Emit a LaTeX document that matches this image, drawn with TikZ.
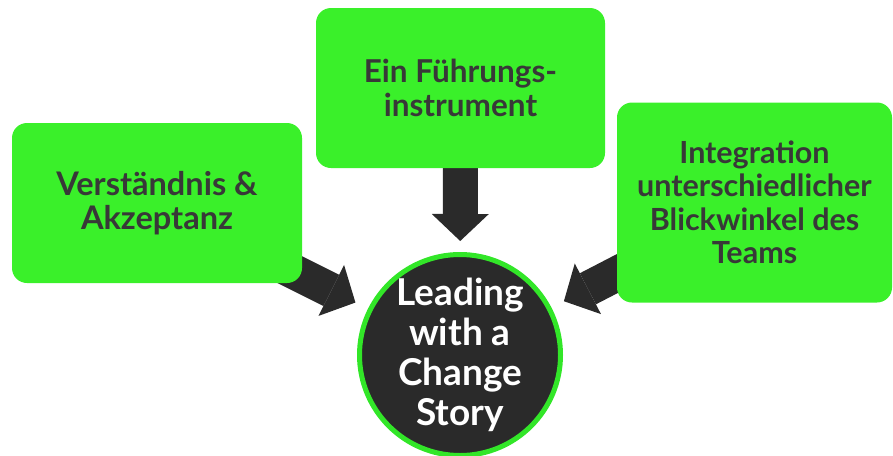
\documentclass[tikz,border=0pt]{standalone}
\usepackage{fontspec}
\setmainfont{Lato}
\usetikzlibrary{arrows.meta,backgrounds}
\definecolor{boxgreen}{RGB}{58,240,42}
\definecolor{ringgreen}{RGB}{50,230,40}
\definecolor{darkfill}{RGB}{42,42,42}
\definecolor{boxtext}{RGB}{56,56,56}
\tikzset{
  greenbox/.style={fill=boxgreen, rounded corners=15pt, inner sep=0pt, align=center, text=boxtext, font=\fontsize{30.5}{33.5}\selectfont\bfseries},
  storycircle/.style={circle, draw=ringgreen, line width=5pt, fill=darkfill, minimum size=201pt, inner sep=0pt, align=center, text=white, font=\fontsize{37}{40}\selectfont\bfseries},
  bigarrow/.style={draw=darkfill, line width=35pt, -{Triangle[width=57pt,length=27pt,line width=0pt]}, shorten >=11pt}
}
\begin{document}
\begin{tikzpicture}[x=1pt, y=-1pt]
  \useasboundingbox (0,0) rectangle (893,455);
  \node[greenbox, minimum width=290pt, minimum height=160pt, font=\fontsize{32.5}{33.5}\selectfont\bfseries] (akz) at (157,203) {Verständnis \&\\Akzeptanz};
  \node[greenbox, minimum width=289pt, minimum height=160pt, font=\fontsize{31.5}{33.5}\selectfont\bfseries] (inst) at (460.5,88) {Ein Führungs-\\instrument};
  \node[greenbox, minimum width=275pt, minimum height=200pt] (team) at (754.5,202.5) {Integration\\unterschiedlicher\\Blickwinkel des\\Teams};
  \node[storycircle] (story) at (460,355) {Leading\\with a\\Change\\Story};
  \begin{pgfonlayer}{background}
    \draw[bigarrow] (inst.center) -- (story);
    \draw[bigarrow, shorten >=14pt] (akz.center) -- (story);
    \draw[bigarrow, shorten >=14pt] (team.center) -- (story);
  \end{pgfonlayer}
\end{tikzpicture}
\end{document}
